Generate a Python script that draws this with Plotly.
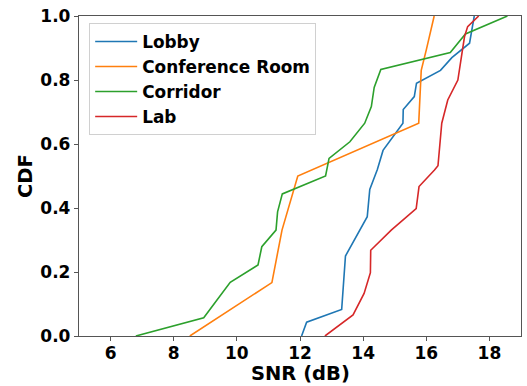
import plotly.graph_objects as go

lobby_x = [12.05, 12.21, 13.32, 13.44, 14.13, 14.21, 14.45, 14.63, 15.26, 15.27, 15.62, 15.69, 16.45, 16.81, 17.37, 17.47, 17.52]
lobby_y = [0.0, 0.043, 0.083, 0.25, 0.373, 0.458, 0.52, 0.58, 0.665, 0.708, 0.748, 0.79, 0.83, 0.87, 0.915, 0.967, 1.0]

conf_x = [8.51, 11.11, 11.43, 11.93, 15.76, 15.84, 16.0, 16.25]
conf_y = [0.0, 0.167, 0.331, 0.5, 0.665, 0.83, 0.894, 1.0]

corr_x = [6.8, 8.95, 9.79, 10.67, 10.79, 11.24, 11.29, 11.44, 12.81, 12.92, 13.58, 14.05, 14.26, 14.35, 14.56, 16.76, 17.24, 18.57]
corr_y = [0.0, 0.057, 0.168, 0.222, 0.279, 0.331, 0.388, 0.444, 0.5, 0.555, 0.607, 0.665, 0.717, 0.777, 0.833, 0.886, 0.944, 1.0]

lab_x = [12.79, 13.68, 14.03, 14.23, 14.24, 14.89, 15.68, 15.77, 16.26, 16.37, 16.49, 16.68, 17.0, 17.21, 17.31, 17.66]
lab_y = [0.0, 0.066, 0.133, 0.198, 0.268, 0.331, 0.398, 0.467, 0.519, 0.532, 0.665, 0.7375, 0.8, 0.935, 0.967, 1.0]

series = [
    ("Lobby", lobby_x, lobby_y, "#1f77b4"),
    ("Conference Room", conf_x, conf_y, "#ff7f0e"),
    ("Corridor", corr_x, corr_y, "#2ca02c"),
    ("Lab", lab_x, lab_y, "#d62728"),
]

x_ticks = [6, 8, 10, 12, 14, 16, 18]
y_ticks = [0.0, 0.2, 0.4, 0.6, 0.8, 1.0]
x_title = "SNR (dB)"
y_title = "CDF"

fig = go.Figure()
for name, xs, ys, c in series:
    fig.add_trace(go.Scatter(x=xs, y=ys, mode="lines", name="<b>" + name + "</b>",
                             legendgroup=name,
                             line=dict(color=c, width=1.6)))

font_family = "DejaVu Sans"
spine = "#555555"
fig.update_layout(
    width=527, height=386,
    margin=dict(l=79, r=6, t=16, b=50),
    paper_bgcolor="white", plot_bgcolor="white",
    font=dict(family=font_family, color="black"),
    showlegend=True,
    legend=dict(
        x=0.023, y=0.978, xanchor="left", yanchor="top",
        bgcolor="rgba(255,255,255,0.8)", bordercolor="#d0d0d0", borderwidth=1,
        font=dict(family=font_family, size=16.9, color="black"),
        itemwidth=42, tracegroupgap=0,
    ),
    xaxis=dict(
        range=[5, 19], tickvals=x_ticks, ticktext=["<b>%d</b>" % v for v in x_ticks],
        ticks="outside", ticklen=4, tickwidth=1, automargin=False,
        ticklabelstandoff=-3,
        tickcolor=spine, showgrid=False, zeroline=False,
        showline=True, linecolor=spine, linewidth=1.3, mirror=True,
        tickfont=dict(family=font_family, size=17, color="black"),
    ),
    yaxis=dict(
        range=[0, 1], tickvals=y_ticks, ticktext=["<b>%.1f</b>" % v for v in y_ticks],
        ticks="outside", ticklen=4, tickwidth=1, automargin=False,
        tickcolor=spine, showgrid=False, zeroline=False,
        showline=True, linecolor=spine, linewidth=1.3, mirror=True,
        tickfont=dict(family=font_family, size=17, color="black"),
    ),
    annotations=[
        dict(text="<b>%s</b>" % x_title, xref="paper", yref="paper", x=0.5, y=0,
             xanchor="center", yanchor="middle", yshift=-37, showarrow=False,
             font=dict(family=font_family, size=19.5, color="black")),
        dict(text="<b>%s</b>" % y_title, xref="paper", yref="paper", x=0, y=0.5,
             xanchor="center", yanchor="middle", xshift=-54, textangle=-90, showarrow=False,
             font=dict(family=font_family, size=19.5, color="black")),
    ],
)

fig.write_html("out.html")
